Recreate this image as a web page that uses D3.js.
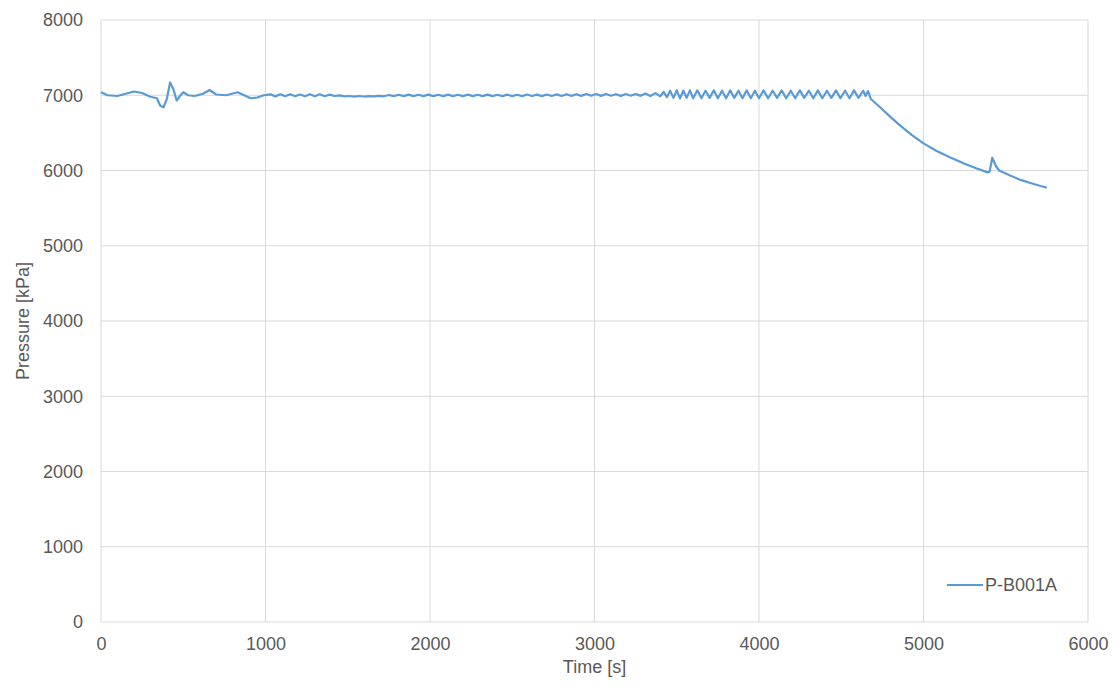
<!DOCTYPE html>
<html>
<head>
<meta charset="utf-8">
<script src="https://cdn.jsdelivr.net/npm/d3@7"></script>
<style>
  body { margin: 0; background: #fff; }
  text { font-family: "Liberation Sans", Arial, sans-serif; }
</style>
</head>
<body>
<svg id="chart" width="1118" height="690"></svg>
<script>
// ---- data ----
const seriesName = "P-B001A";
const xTicks = [0, 1000, 2000, 3000, 4000, 5000, 6000];
const yTicks = [0, 1000, 2000, 3000, 4000, 5000, 6000, 7000, 8000];
const xTitle = "Time [s]";
const yTitle = "Pressure [kPa]";

// start-up disturbance (0 - 1000 s)
const startTimes = [0, 40, 100, 150, 200, 250, 300, 340, 360, 380, 400, 420, 440, 460, 480, 500, 530, 570, 620, 660, 700, 760, 830, 870, 910, 950, 990];
const startPressure = [7040, 7000, 6990, 7020, 7050, 7030, 6980, 6960, 6860, 6840, 6950, 7170, 7080, 6930, 6990, 7040, 7000, 6990, 7020, 7070, 7010, 7000, 7040, 7000, 6960, 6970, 7000];

// steady period with small ripple (1000 - 3400 s)
const steadyTimes = [1030, 1060, 1090, 1120, 1150, 1180, 1210, 1240, 1270, 1300, 1330, 1360, 1390, 1420, 1450, 1480, 1510, 1540, 1570, 1600, 1630, 1660, 1690, 1720, 1750, 1780, 1810, 1840, 1870, 1900, 1930, 1960, 1990, 2020, 2050, 2080, 2110, 2140, 2170, 2200, 2230, 2260, 2290, 2320, 2350, 2380, 2410, 2440, 2470, 2500, 2530, 2560, 2590, 2620, 2650, 2680, 2710, 2740, 2770, 2800, 2830, 2860, 2890, 2920, 2950, 2980, 3010, 3040, 3070, 3100, 3130, 3160, 3190, 3220, 3250, 3280, 3310, 3340, 3370, 3400];
const steadyPressure = [7012, 6985, 7012, 6986, 7012, 6986, 7010, 6986, 7012, 6986, 7012, 6986, 7008, 6990, 6998, 6986, 6990, 6982, 6990, 6983, 6988, 6984, 6992, 6986, 7004, 6988, 7006, 6988, 7008, 6988, 7006, 6988, 7008, 6989, 7006, 6988, 7008, 6989, 7006, 6988, 7008, 6989, 7006, 6988, 7008, 6989, 7006, 6989, 7008, 6988, 7006, 6989, 7010, 6990, 7008, 6989, 7010, 6990, 7012, 6990, 7014, 6992, 7014, 6992, 7016, 6994, 7016, 6992, 7016, 6994, 7014, 6992, 7016, 6994, 7016, 6992, 7022, 6990, 7028, 6986];

// cycling period (3400 - 4663 s)
const cycleTimes = [3420, 3440, 3460, 3480, 3500, 3520, 3540, 3560, 3580, 3600, 3625, 3650, 3675, 3700, 3725, 3750, 3775, 3800, 3825, 3850, 3875, 3900, 3925, 3950, 3975, 4000, 4028, 4055, 4083, 4110, 4138, 4165, 4193, 4220, 4248, 4275, 4303, 4330, 4358, 4385, 4413, 4440, 4468, 4495, 4523, 4550, 4578, 4605, 4633, 4648, 4663];
const cyclePressure = [7045, 6975, 7060, 6965, 7065, 6960, 7060, 6965, 7065, 6960, 7065, 6960, 7060, 6965, 7065, 6960, 7060, 6960, 7065, 6965, 7060, 6960, 7065, 6960, 7060, 6960, 7065, 6960, 7060, 6965, 7065, 6960, 7060, 6960, 7065, 6965, 7060, 6960, 7065, 6960, 7060, 6965, 7065, 6960, 7060, 6960, 7065, 6965, 7060, 6990, 7055];

// depressurisation (after 4663 s)
const declineTimes = [4680, 4736, 4800, 4857, 4930, 5000, 5080, 5160, 5250, 5320, 5390, 5402, 5418, 5440, 5460, 5520, 5590, 5670, 5750];
const declinePressure = [6950, 6840, 6710, 6600, 6470, 6360, 6260, 6175, 6090, 6030, 5975, 5985, 6170, 6060, 6000, 5940, 5875, 5820, 5770];

const times = [...startTimes, ...steadyTimes, ...cycleTimes, ...declineTimes];
const pressure = [...startPressure, ...steadyPressure, ...cyclePressure, ...declinePressure];
const data = times.map((t, i) => ({ t, p: pressure[i] }));

// ---- layout ----
const svg = d3.select("#chart");
const plotLeft = 101, plotRight = 1088, plotTop = 20, plotBottom = 622;
const x = d3.scaleLinear().domain([0, 6000]).range([plotLeft, plotRight]);
const y = d3.scaleLinear().domain([0, 8000]).range([plotBottom, plotTop]);
const gridColor = "#d9d9d9";
const textColor = "#595959";
const fontSize = 18;

// gridlines
svg.append("g").selectAll("line").data(yTicks).join("line")
  .attr("x1", plotLeft).attr("x2", plotRight)
  .attr("y1", d => y(d)).attr("y2", d => y(d))
  .attr("stroke", gridColor).attr("stroke-width", 1);
svg.append("g").selectAll("line").data(xTicks).join("line")
  .attr("y1", plotTop).attr("y2", plotBottom)
  .attr("x1", d => x(d)).attr("x2", d => x(d))
  .attr("stroke", gridColor).attr("stroke-width", 1);

// axes (labels only)
const xAxis = svg.append("g").attr("transform", `translate(0,${plotBottom})`)
  .call(d3.axisBottom(x).tickValues(xTicks).tickSize(0).tickPadding(15).tickFormat(d3.format("d")));
const yAxis = svg.append("g").attr("transform", `translate(${plotLeft},0)`)
  .call(d3.axisLeft(y).tickValues(yTicks).tickSize(0).tickPadding(18).tickFormat(d3.format("d")));
[xAxis, yAxis].forEach(a => {
  a.select(".domain").remove();
  a.selectAll("text").attr("fill", textColor).attr("font-size", fontSize)
    .attr("font-family", "'Liberation Sans', Arial, sans-serif");
});

// series line
svg.append("path").datum(data)
  .attr("fill", "none")
  .attr("stroke", "#5b9bd5")
  .attr("stroke-width", 2.2)
  .attr("stroke-linejoin", "round")
  .attr("d", d3.line().x(d => x(d.t)).y(d => y(d.p)));

// axis titles
svg.append("text").attr("x", (plotLeft + plotRight) / 2).attr("y", 673)
  .attr("text-anchor", "middle").attr("fill", textColor).attr("font-size", fontSize)
  .text(xTitle);
svg.append("text").attr("transform", `translate(29,${(plotTop + plotBottom) / 2}) rotate(-90)`)
  .attr("text-anchor", "middle").attr("fill", textColor).attr("font-size", fontSize)
  .text(yTitle);

// legend
const lg = svg.append("g").attr("transform", "translate(947,585)");
lg.append("line").attr("x1", 0).attr("x2", 36).attr("y1", 0).attr("y2", 0)
  .attr("stroke", "#5b9bd5").attr("stroke-width", 2.2);
lg.append("text").attr("x", 38).attr("y", 0).attr("dy", "0.35em")
  .attr("fill", textColor).attr("font-size", fontSize).text(seriesName);
</script>
</body>
</html>
